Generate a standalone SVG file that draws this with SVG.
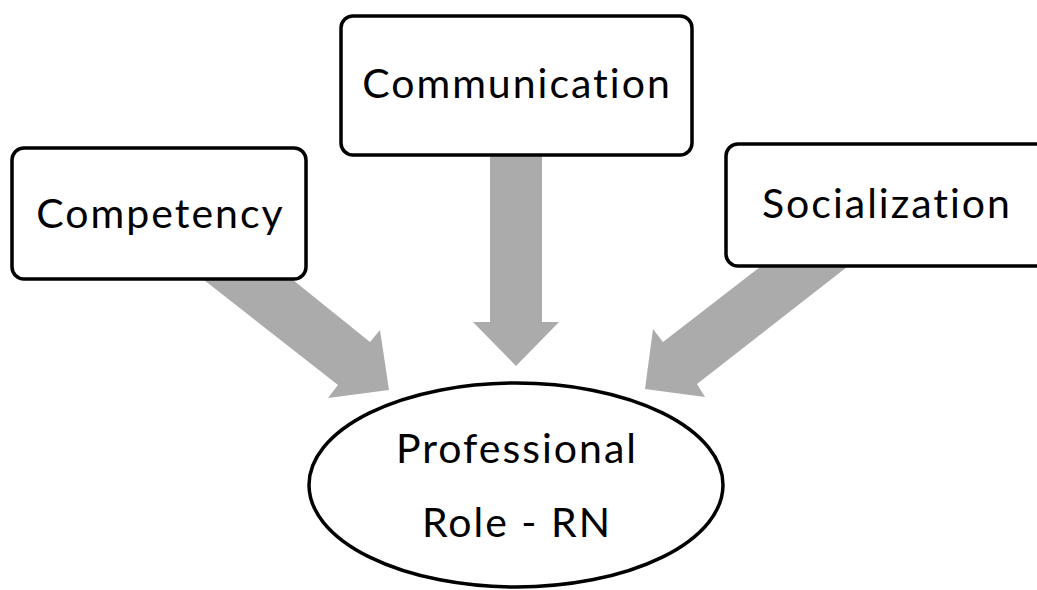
<svg xmlns="http://www.w3.org/2000/svg" width="1037" height="590" viewBox="0 0 1037 590">
<style>
.box{fill:#fff;stroke:#000;stroke-width:3.5}
.arrow{fill:#ababab;stroke:none}
.lbl{font-family:Lato,"Liberation Sans",sans-serif;font-size:41px;fill:#000;text-anchor:middle;letter-spacing:2px;font-variant-ligatures:none}
</style>
<rect width="1037" height="590" fill="#fff"/>
<g id="connectors">
<polygon class="arrow" points="204,280 293,280 370,342 380,330 389,390 328,398 338,385"/>
<polygon class="arrow" points="490,150 542,150 542,322 559,322 516,366 473,322 490,322"/>
<polygon class="arrow" points="760,267 847,267 697,384 705,397 645,389 653,329 663,342"/>
</g>
<g id="competency">
<rect class="box" x="12" y="148" width="294" height="131" rx="12"/>
<text class="lbl" x="160.5" y="228">Competency</text>
</g>
<g id="communication">
<rect class="box" x="341" y="16" width="351" height="139" rx="12"/>
<text class="lbl" x="517" y="98">Communication</text>
</g>
<g id="socialization">
<rect class="box" x="726" y="144" width="340" height="122" rx="12"/>
<text class="lbl" x="887" y="218">Socialization</text>
</g>
<g id="professional-role">
<ellipse class="box" cx="516" cy="485" rx="207" ry="102"/>
<text class="lbl" x="517" y="463">Professional</text>
<text class="lbl" x="517" y="537">Role - RN</text>
</g>
</svg>
